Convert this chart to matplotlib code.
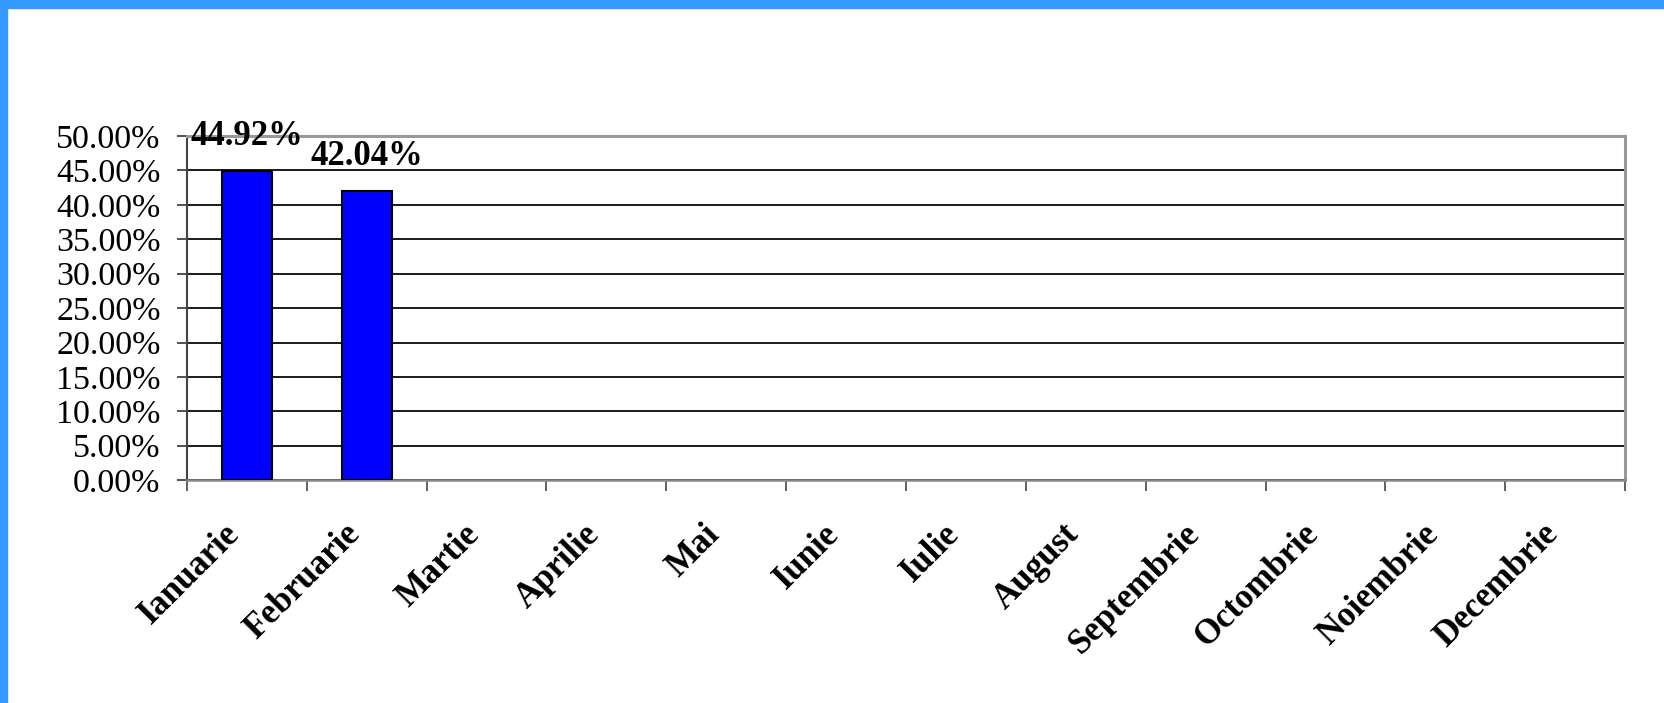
import numpy as np
import matplotlib
matplotlib.use('Agg')
from matplotlib import rcParams

rcParams['font.family'] = 'serif'
rcParams['font.serif'] = ['Liberation Serif', 'DejaVu Serif']

import matplotlib.pyplot as plt
from matplotlib.patches import Rectangle
from matplotlib.ticker import FuncFormatter, MultipleLocator

# ---------------- data ----------------
months = ['Ianuarie', 'Februarie', 'Martie', 'Aprilie', 'Mai', 'Iunie',
          'Iulie', 'August', 'Septembrie', 'Octombrie', 'Noiembrie', 'Decembrie']
values = [0.4492, 0.4204]          # only first two months filled
value_labels = ['44.92%', '42.04%']

# ---------------- figure ----------------
fig = plt.figure(figsize=(16.65, 7.03), dpi=100)
fig.patch.set_facecolor('white')

# blue frame on top and left
fig.patches.append(Rectangle((0, 1 - 8 / 703), 1, 8 / 703, transform=fig.transFigure,
                             color='#3399FF', zorder=0))
fig.patches.append(Rectangle((0, 0), 7 / 1665, 1, transform=fig.transFigure,
                             color='#3399FF', zorder=0))

ax = fig.add_axes([0.1123, 0.317, 0.976 - 0.1123, 0.8065 - 0.317])

x = np.arange(len(months))
ax.bar(x[:len(values)], values, width=0.42, color='#0000FF',
       edgecolor='black', linewidth=1.5, zorder=3)

for xi, v, lab in zip(x, values, value_labels):
    ax.annotate(lab, (xi, v), xytext=(0, 13), textcoords='offset points',
                ha='center', va='bottom', fontsize=25, fontweight='bold',
                annotation_clip=False, zorder=4)

ax.set_xlim(-0.5, len(months) - 0.5)
ax.set_ylim(0, 0.5)

ax.yaxis.set_major_locator(MultipleLocator(0.05))
ax.yaxis.set_major_formatter(FuncFormatter(lambda v, p: '%.2f%%' % (v * 100)))
ax.grid(axis='y', color='#1a1a1a', linewidth=1.4, zorder=1)

# labels at category centres, tick marks at category boundaries
ax.set_xticks(x)
ax.set_xticklabels(months, rotation=45, ha='right', va='top',
                   fontsize=25, fontweight='bold')
ax.set_xticks(np.arange(-0.5, len(months)), minor=True)
ax.tick_params(axis='x', which='major', length=0, pad=27)
ax.tick_params(axis='x', which='minor', length=8, width=1.3, color='#555555')
ax.tick_params(axis='y', length=7, width=1.3, color='#444444', labelsize=24.5, pad=12)

for s in ['top', 'right']:
    ax.spines[s].set_color('#999999')
    ax.spines[s].set_linewidth(2.2)
ax.spines['left'].set_color('#444444')
ax.spines['left'].set_linewidth(1.5)
ax.spines['bottom'].set_color('#888888')
ax.spines['bottom'].set_linewidth(1.8)

plt.savefig('out.png', dpi=100)
